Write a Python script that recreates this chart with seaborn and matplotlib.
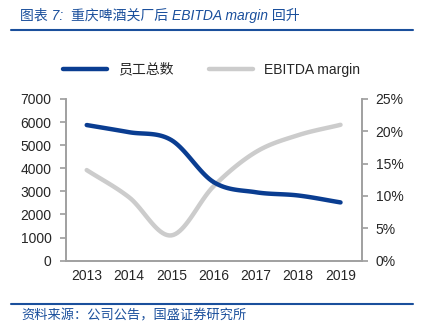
import numpy as np
import pandas as pd
import matplotlib
matplotlib.use("Agg")
import matplotlib.pyplot as plt
import seaborn as sns
from matplotlib.lines import Line2D

years = ["2013", "2014", "2015", "2016", "2017", "2018", "2019"]
employees = [5870, 5560, 5220, 3400, 2960, 2820, 2520]
ebitda_margin = [14.0, 9.8, 3.9, 11.5, 16.8, 19.4, 21.0]
y_left_ticks = [0, 1000, 2000, 3000, 4000, 5000, 6000, 7000]
y_right_ticks = [0, 5, 10, 15, 20, 25]

BLUE = "#0a3d91"
GRAY = "#cccccc"
AXC = "#a0a0a0"

sns.set_theme(style="white")
plt.rcParams['font.family'] = ['Liberation Sans', 'Noto Sans CJK SC']


def smooth(vals, n=20):
    # Catmull-Rom display smoothing (like Excel smoothed line)
    p = np.asarray(vals, float)
    pts = np.concatenate([[2 * p[0] - p[1]], p, [2 * p[-1] - p[-2]]])
    xs, ys = [], []
    for i in range(1, len(pts) - 2):
        p0, p1, p2, p3 = pts[i - 1], pts[i], pts[i + 1], pts[i + 2]
        t = np.linspace(0, 1, n, endpoint=False)
        y = 0.5 * ((2 * p1) + (-p0 + p2) * t + (2 * p0 - 5 * p1 + 4 * p2 - p3) * t ** 2
                   + (-p0 + 3 * p1 - 3 * p2 + p3) * t ** 3)
        xs.extend(i - 1 + t)
        ys.extend(y)
    xs.append(len(p) - 1)
    ys.append(p[-1])
    return np.array(xs), np.array(ys)


fig = plt.figure(figsize=(4.23, 3.32), dpi=100)
ax = fig.add_axes([0.155, 0.215, 0.70, 0.487])
ax2 = ax.twinx()

xb, yb = smooth(employees)
xg, yg = smooth(ebitda_margin)
sns.lineplot(x=xg, y=yg, ax=ax2, color=GRAY, lw=3.2, sort=False)
sns.lineplot(x=xb, y=yb, ax=ax, color=BLUE, lw=3.2, sort=False)
ax.set_zorder(ax2.get_zorder() + 1)
ax.patch.set_visible(False)

ax.set_xlim(-0.5, len(years) - 0.5)
ax.set_ylim(0, 7000)
ax2.set_ylim(0, 25)
ax.set_yticks(y_left_ticks)
ax.set_yticklabels([str(v) for v in y_left_ticks], fontsize=10)
ax2.set_yticks(y_right_ticks)
ax2.set_yticklabels([f"{v}%" for v in y_right_ticks], fontsize=10)
ax.set_xticks(range(len(years)))
ax.set_xticklabels(years, fontsize=10)
ax.set_xticks(np.arange(-0.5, len(years)), minor=True)
ax.tick_params(axis='x', which='major', length=0, pad=6)
ax.tick_params(axis='x', which='minor', length=4, color=AXC, direction='in')
ax.tick_params(axis='y', length=4, color=AXC, direction='out', pad=6)
ax2.tick_params(axis='y', length=4, color=AXC, direction='out', pad=6)
for a in (ax, ax2):
    a.set_xlabel("")
    a.set_ylabel("")
    a.grid(False)
    for s in a.spines.values():
        s.set_color(AXC)
        s.set_linewidth(1.2)
    a.spines['top'].set_visible(False)

handles = [Line2D([], [], color=BLUE, lw=3.2), Line2D([], [], color=GRAY, lw=3.2)]
fig.legend(handles, ["员工总数", "EBITDA margin"], loc='center', bbox_to_anchor=(0.5, 0.79),
           ncol=2, frameon=False, fontsize=10, handlelength=3.2, columnspacing=2.5)

fig.text(0.048, 0.953, "图表 7:  重庆啤酒关厂后 EBITDA margin 回升", fontsize=10,
         color="#1a4f9c", style='italic', va='center', ha='left')
fig.add_artist(Line2D([0.025, 0.977], [0.91, 0.91], color="#1a4f9c", lw=1.5,
                      transform=fig.transFigure))
fig.add_artist(Line2D([0.025, 0.977], [0.083, 0.083], color="#1a4f9c", lw=1.5,
                      transform=fig.transFigure))
fig.text(0.05, 0.048, "资料来源：公司公告，国盛证券研究所", fontsize=9.5,
         color="#1a4f9c", style='italic', va='center', ha='left')

fig.savefig("out.png", dpi=100)
